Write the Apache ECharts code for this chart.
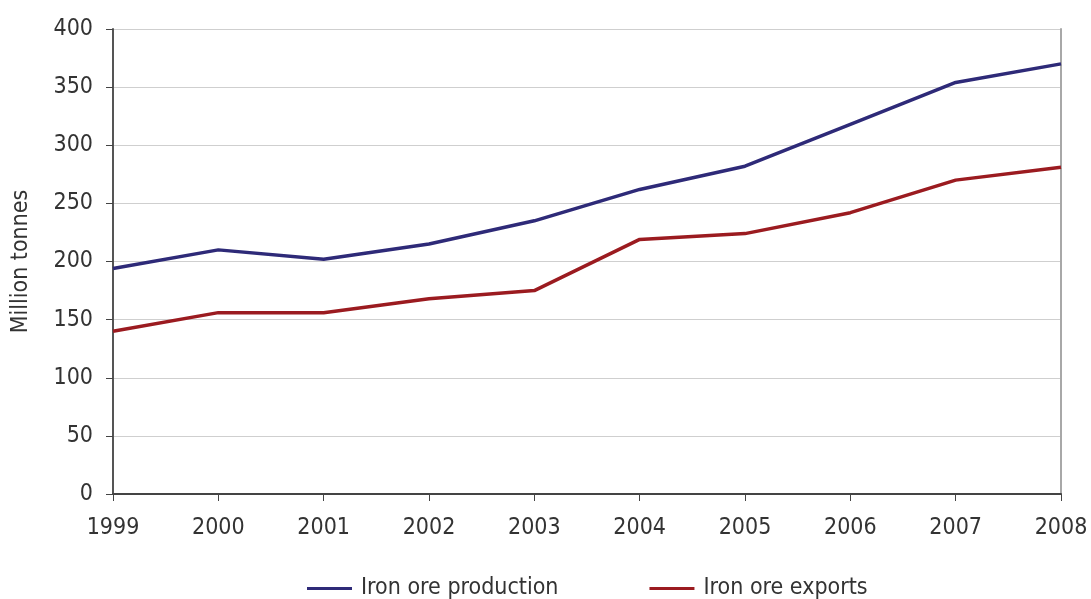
<!DOCTYPE html>
<html>
<head>
<meta charset="utf-8">
<script src="https://cdn.jsdelivr.net/npm/echarts@6/dist/echarts.min.js"></script>
<style>
html,body{margin:0;padding:0;background:#fff;}
#chart{width:1091px;height:599px;}
</style>
</head>
<body>
<div id="chart"></div>
<script>
const years = ['1999','2000','2001','2002','2003','2004','2005','2006','2007','2008'];
const production = [194, 210, 202, 215, 235, 262, 282, 318, 354, 370];
const exports = [140, 156, 156, 168, 175, 219, 224, 242, 270, 281];
const yTicks = {min: 0, max: 400, interval: 50};

const FONT = '"Liberation Sans Narrow", "DejaVu Sans Condensed", "Liberation Sans", sans-serif';
const chart = echarts.init(document.getElementById('chart'), null, {renderer: 'canvas'});
chart.setOption({
  animation: false,
  backgroundColor: '#ffffff',
  textStyle: {fontFamily: FONT},
  grid: {left: 113, right: 30, top: 29, bottom: 105, containLabel: false},
  legend: {
    top: 572,
    left: 302,
    itemWidth: 45,
    itemHeight: 3,
    itemGap: 91,
    icon: 'rect',
    textStyle: {fontFamily: FONT, fontSize: 23, color: '#333333', padding: [0, 0, 0, 4]},
    data: ['Iron ore production', 'Iron ore exports']
  },
  xAxis: {
    type: 'category',
    data: years,
    boundaryGap: false,
    axisLine: {show: true, lineStyle: {color: '#444444', width: 2}},
    axisTick: {show: true, alignWithLabel: true, length: 7, lineStyle: {color: '#444444', width: 1}},
    axisLabel: {fontFamily: FONT, fontSize: 23, color: '#333333', margin: 23, interval: 0},
    splitLine: {show: false}
  },
  yAxis: [{
    type: 'value',
    min: yTicks.min,
    max: yTicks.max,
    interval: yTicks.interval,
    name: 'Million tonnes',
    nameLocation: 'middle',
    nameRotate: 90,
    nameGap: 80,
    nameTextStyle: {fontFamily: FONT, fontSize: 23, color: '#333333'},
    axisLine: {show: true, lineStyle: {color: '#555555', width: 2}},
    axisTick: {show: true, length: 7, lineStyle: {color: '#444444', width: 1}},
    axisLabel: {fontFamily: FONT, fontSize: 23, color: '#333333', margin: 20},
    splitLine: {show: true, lineStyle: {color: '#cfcfcf', width: 1}}
  }, {
    type: 'value',
    position: 'right',
    min: yTicks.min,
    max: yTicks.max,
    interval: yTicks.interval,
    axisLine: {show: true, lineStyle: {color: '#a8a8a8', width: 2}},
    axisTick: {show: false},
    axisLabel: {show: false},
    splitLine: {show: false}
  }],
  series: [{
    name: 'Iron ore production',
    type: 'line',
    data: production,
    symbol: 'none',
    lineStyle: {color: '#2e2a78', width: 3.5},
    itemStyle: {color: '#2e2a78'}
  }, {
    name: 'Iron ore exports',
    type: 'line',
    data: exports,
    symbol: 'none',
    lineStyle: {color: '#9b1b20', width: 3.5},
    itemStyle: {color: '#9b1b20'}
  }]
});
</script>
</body>
</html>
